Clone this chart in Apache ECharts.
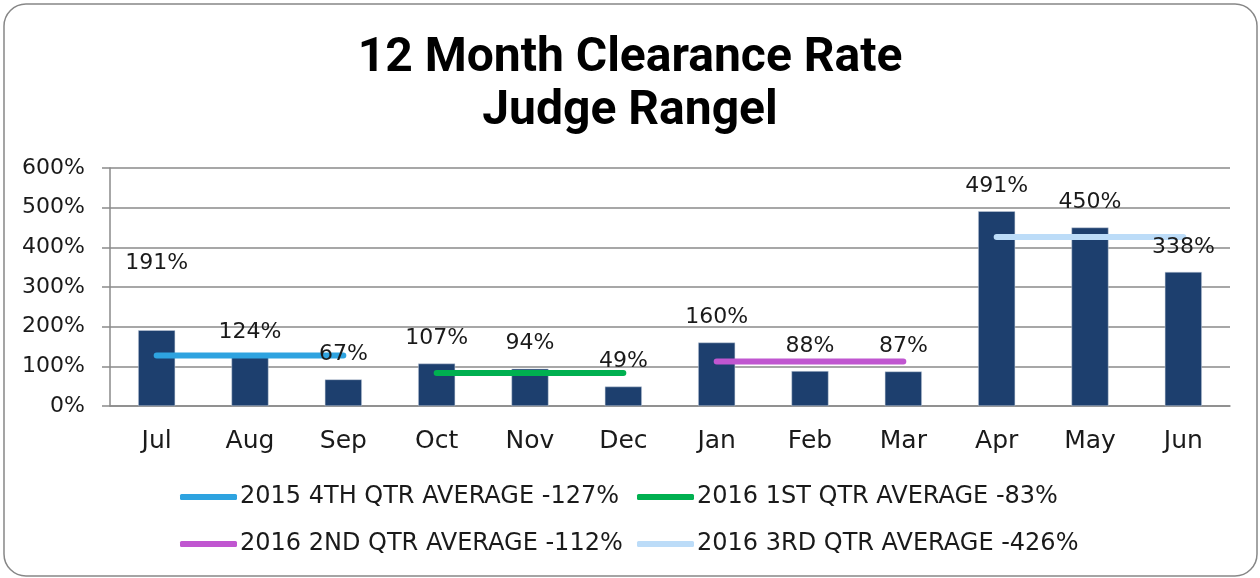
<!DOCTYPE html>
<html>
<head>
<meta charset="utf-8">
<script src="https://cdn.jsdelivr.net/npm/echarts@6/dist/echarts.min.js"></script>
<style>
  html, body { margin: 0; padding: 0; background: #fff; }
  #main { width: 1260px; height: 578px; }
</style>
</head>
<body>
<div id="main"></div>
<script>
// chart data
const months = ['Jul', 'Aug', 'Sep', 'Oct', 'Nov', 'Dec', 'Jan', 'Feb', 'Mar', 'Apr', 'May', 'Jun'];
const clearance = [191, 124, 67, 107, 94, 49, 160, 88, 87, 491, 450, 338];
const yTicks = [0, 100, 200, 300, 400, 500, 600];
// quarter averages, one segment per quarter
const q4_2015 = [127, 127, 127, null, null, null, null, null, null, null, null, null];
const q1_2016 = [null, null, null, 83, 83, 83, null, null, null, null, null, null];
const q2_2016 = [null, null, null, null, null, null, 112, 112, 112, null, null, null];
const q3_2016 = [null, null, null, null, null, null, null, null, null, 426, 426, 426];
const avgNames = [
  '2015 4TH QTR AVERAGE -127%',
  '2016 1ST QTR AVERAGE -83%',
  '2016 2ND QTR AVERAGE -112%',
  '2016 3RD QTR AVERAGE -426%'
];
const avgData = [q4_2015, q1_2016, q2_2016, q3_2016];
const avgColors = ['#2ea3e0', '#00b050', '#c056d0', '#bcdcf8'];

const font = 'DejaVu Sans';
const myChart = echarts.init(document.getElementById('main'));

// legend slots: 2 columns x 2 rows
const legendPos = [[180, 485], [637, 485], [180, 532], [637, 532]];

const option = {
  animation: false,
  title: {
    text: '12 Month Clearance Rate\nJudge Rangel',
    left: 'center',
    top: 27,
    textStyle: {
      fontFamily: 'Roboto',
      fontWeight: 'bold',
      fontSize: 48,
      lineHeight: 53,
      color: '#000'
    }
  },
  graphic: [{
    type: 'rect',
    shape: { x: 4, y: 4, width: 1253, height: 572, r: 22 },
    style: { fill: 'none', stroke: '#878787', lineWidth: 1.5 },
    silent: true,
    z: -1
  }],
  legend: avgNames.map((n, i) => ({
    data: [n],
    left: legendPos[i][0],
    top: legendPos[i][1],
    padding: 0,
    itemWidth: 57,
    itemHeight: 6,
    icon: 'roundRect',
    textStyle: { fontFamily: font, fontSize: 24, lineHeight: 24, color: '#1a1a1a', padding: [0, 0, 0, -2] }
  })),
  grid: { left: 110, right: 30, top: 168, bottom: 172 },
  xAxis: {
    type: 'category',
    data: months,
    axisLine: { lineStyle: { color: '#8a8a8a', width: 1.5 } },
    axisTick: { length: 8, lineStyle: { color: '#8a8a8a', width: 1.5 } },
    axisLabel: { margin: 23, fontFamily: font, fontSize: 25, color: '#1a1a1a' }
  },
  yAxis: {
    type: 'value',
    min: 0,
    max: 600,
    interval: 100,
    axisLine: { show: true, lineStyle: { color: '#8a8a8a', width: 1.5 } },
    axisTick: { show: true, length: 8, lineStyle: { color: '#8a8a8a', width: 1.5 } },
    splitLine: { lineStyle: { color: '#8a8a8a', width: 1.5 } },
    axisLabel: {
      margin: 25,
      fontFamily: font,
      fontSize: 22,
      color: '#1a1a1a',
      customValues: yTicks,
      formatter: '{value}%'
    }
  },
  series: [
    {
      name: 'Clearance',
      type: 'bar',
      data: clearance,
      barWidth: 37,
      z: 2,
      itemStyle: { color: '#1d3f6e', borderColor: '#c9d2de', borderWidth: 0.5 }
    },
    ...avgNames.map((n, i) => ({
      name: n,
      type: 'line',
      data: avgData[i],
      symbol: 'none',
      z: 3,
      color: avgColors[i],
      lineStyle: { color: avgColors[i], width: 6, cap: 'round' }
    })),
    {
      // label carrier so the numbers sit above the average lines
      name: 'labels',
      type: 'bar',
      data: clearance.map((v, i) => i === 0
        ? { value: v, label: { distance: 56 } }
        : v),
      barWidth: 37,
      barGap: '-100%',
      z: 4,
      itemStyle: { color: 'rgba(0,0,0,0)' },
      label: {
        show: true,
        position: 'top',
        distance: 14,
        fontFamily: font,
        fontSize: 22,
        color: '#1a1a1a',
        formatter: '{c}%'
      }
    }
  ]
};
myChart.setOption(option);
</script>
</body>
</html>
